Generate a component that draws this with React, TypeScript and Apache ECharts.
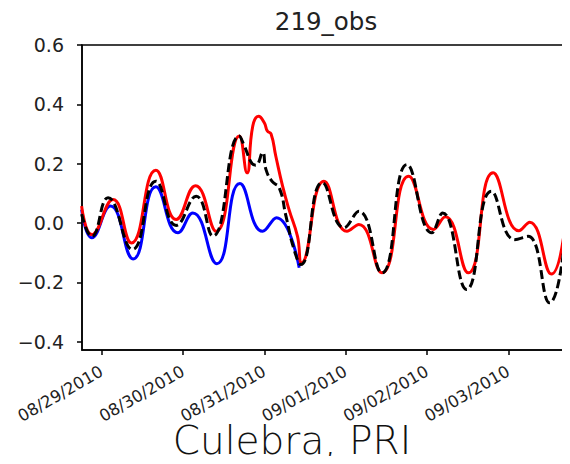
import React, { useEffect, useRef } from "react";
import * as echarts from "echarts";

// Hours since 2010-08-29 00:00 and sea-level anomaly (m) for each series
const blueHours = [-5.9, -2.9, 2.6, 9.3, 16.0, 22.5, 26.9, 34.0, 40.8, 47.5, 51.6, 58.3];
const blueValues = [0.045, -0.05, 0.057, -0.121, 0.122, -0.033, 0.034, -0.137, 0.133, -0.028, 0.018, -0.151];

const redHours = [
  -5.9, -2.9, 3.4, 8.8, 16.0, 22.0, 27.7, 33.8, 40.6, 42.9, 44.6, 46.3, 48.0, 48.9, 50.0, 51.4,
  53.4, 55.3, 57.8, 59.0, 65.6, 72.4, 75.9, 82.7, 90.6, 97.9, 101.4, 108.2, 115.5, 123.1, 126.3,
  132.7, 137.4,
];
const redValues = [
  0.057, -0.039, 0.079, -0.067, 0.178, 0.012, 0.126, -0.028, 0.293, 0.169, 0.327, 0.36, 0.338, 0.31,
  0.3, 0.225, 0.124, 0.045, -0.045, -0.134, 0.141, -0.028, -0.005, -0.168, 0.158, -0.022, 0.021,
  -0.168, 0.169, -0.026, 0.003, -0.172, 0.062,
];

const obsHours = [
  -5.9, -2.9, 1.9, 9.1, 16.0, 22.0, 27.9, 32.8, 40.6, 42.1, 44.4, 45.5, 47.5, 48.5, 50.3, 52.4,
  54.4, 56.8, 58.8, 65.1, 71.5, 75.9, 82.7, 90.1, 97.4, 100.6, 107.7, 115.0, 121.9, 125.8, 132.2,
  137.1,
];
const obsValues = [
  0.03, -0.045, 0.085, -0.089, 0.141, -0.008, 0.09, -0.044, 0.293, 0.26, 0.2, 0.195, 0.237, 0.18,
  0.14, 0.119, 0.023, -0.09, -0.14, 0.136, -0.016, 0.04, -0.168, 0.197, -0.033, 0.034, -0.224, 0.107,
  -0.056, -0.045, -0.269, -0.011,
];

// Day boundaries (hours) and their labels
const dayTicks = [0, 24, 48, 72, 96, 120];
const dayLabels = ["08/29/2010", "08/30/2010", "08/31/2010", "09/01/2010", "09/02/2010", "09/03/2010"];
const yTicks = [-0.4, -0.2, 0.0, 0.2, 0.4, 0.6];

const X_MIN = -5.79;
const X_MAX = 138.2;
const Y_MIN = -0.428;
const Y_MAX = 0.6;

const pair = (h: number[], v: number[]) => h.map((x, i) => [x, v[i]]);

export default function App() {
  const ref = useRef<HTMLDivElement>(null);
  useEffect(() => {
    if (!ref.current) return;
    const chart = echarts.init(ref.current, null, { renderer: "svg" });
    const fmtY = (v: number) => (v < 0 ? "\u2212" : "") + Math.abs(v).toFixed(1);
    chart.setOption({
      animation: false,
      grid: {
        left: 82,
        top: 45,
        width: 490,
        bottom: 114,
        show: true,
        borderColor: "#000",
        borderWidth: 1.5,
        backgroundColor: "transparent",
      },
      xAxis: {
        type: "value",
        min: X_MIN,
        max: X_MAX,
        splitLine: { show: false },
        axisLine: { onZero: false, lineStyle: { color: "#000", width: 1.5 } },
        axisTick: { show: true, length: 5, lineStyle: { color: "#000", width: 1.5 }, customValues: dayTicks },
        axisLabel: {
          customValues: dayTicks,
          rotate: 30,
          margin: 20,
          fontFamily: "DejaVu Sans",
          fontSize: 16.5,
          color: "#222",
          formatter: (v: number) => dayLabels[dayTicks.indexOf(Math.round(v))] ?? "",
        },
      },
      yAxis: {
        type: "value",
        min: Y_MIN,
        max: Y_MAX,
        splitLine: { show: false },
        axisLine: { show: true, onZero: false, lineStyle: { color: "#000", width: 1.5 } },
        axisTick: { show: true, length: 5, lineStyle: { color: "#000", width: 1.5 }, customValues: yTicks },
        axisLabel: {
          customValues: yTicks,
          margin: 18,
          fontFamily: "DejaVu Sans",
          fontSize: 19,
          color: "#222",
          formatter: (v: number) => fmtY(v),
        },
      },
      graphic: [
        {
          type: "text",
          x: 326,
          y: 21,
          style: {
            text: "219_obs",
            fontFamily: "DejaVu Sans",
            fontSize: 24.5,
            fill: "#222",
            textAlign: "center",
            textVerticalAlign: "middle",
          },
        },
        {
          type: "text",
          x: 292,
          y: 440,
          style: {
            text: "Culebra, PRI",
            fontFamily: "DejaVu Sans",
            fontWeight: 200,
            fontSize: 39,
            fill: "#111",
            textAlign: "center",
            textVerticalAlign: "middle",
          },
        },
      ],
      series: [
        {
          type: "line",
          data: pair(blueHours, blueValues),
          smooth: 0.5,
          symbol: "none",
          lineStyle: { color: "#0000ff", width: 3 },
          z: 2,
        },
        {
          type: "line",
          data: pair(redHours, redValues),
          smooth: 0.5,
          symbol: "none",
          lineStyle: { color: "#ff0000", width: 3 },
          z: 3,
        },
        {
          type: "line",
          data: pair(obsHours, obsValues),
          smooth: 0.5,
          symbol: "none",
          lineStyle: { color: "#000000", width: 3, type: [9, 4] },
          z: 4,
        },
      ],
    });
    return () => chart.dispose();
  }, []);
  return <div ref={ref} style={{ width: 570, height: 464, margin: -8 }} />;
}
